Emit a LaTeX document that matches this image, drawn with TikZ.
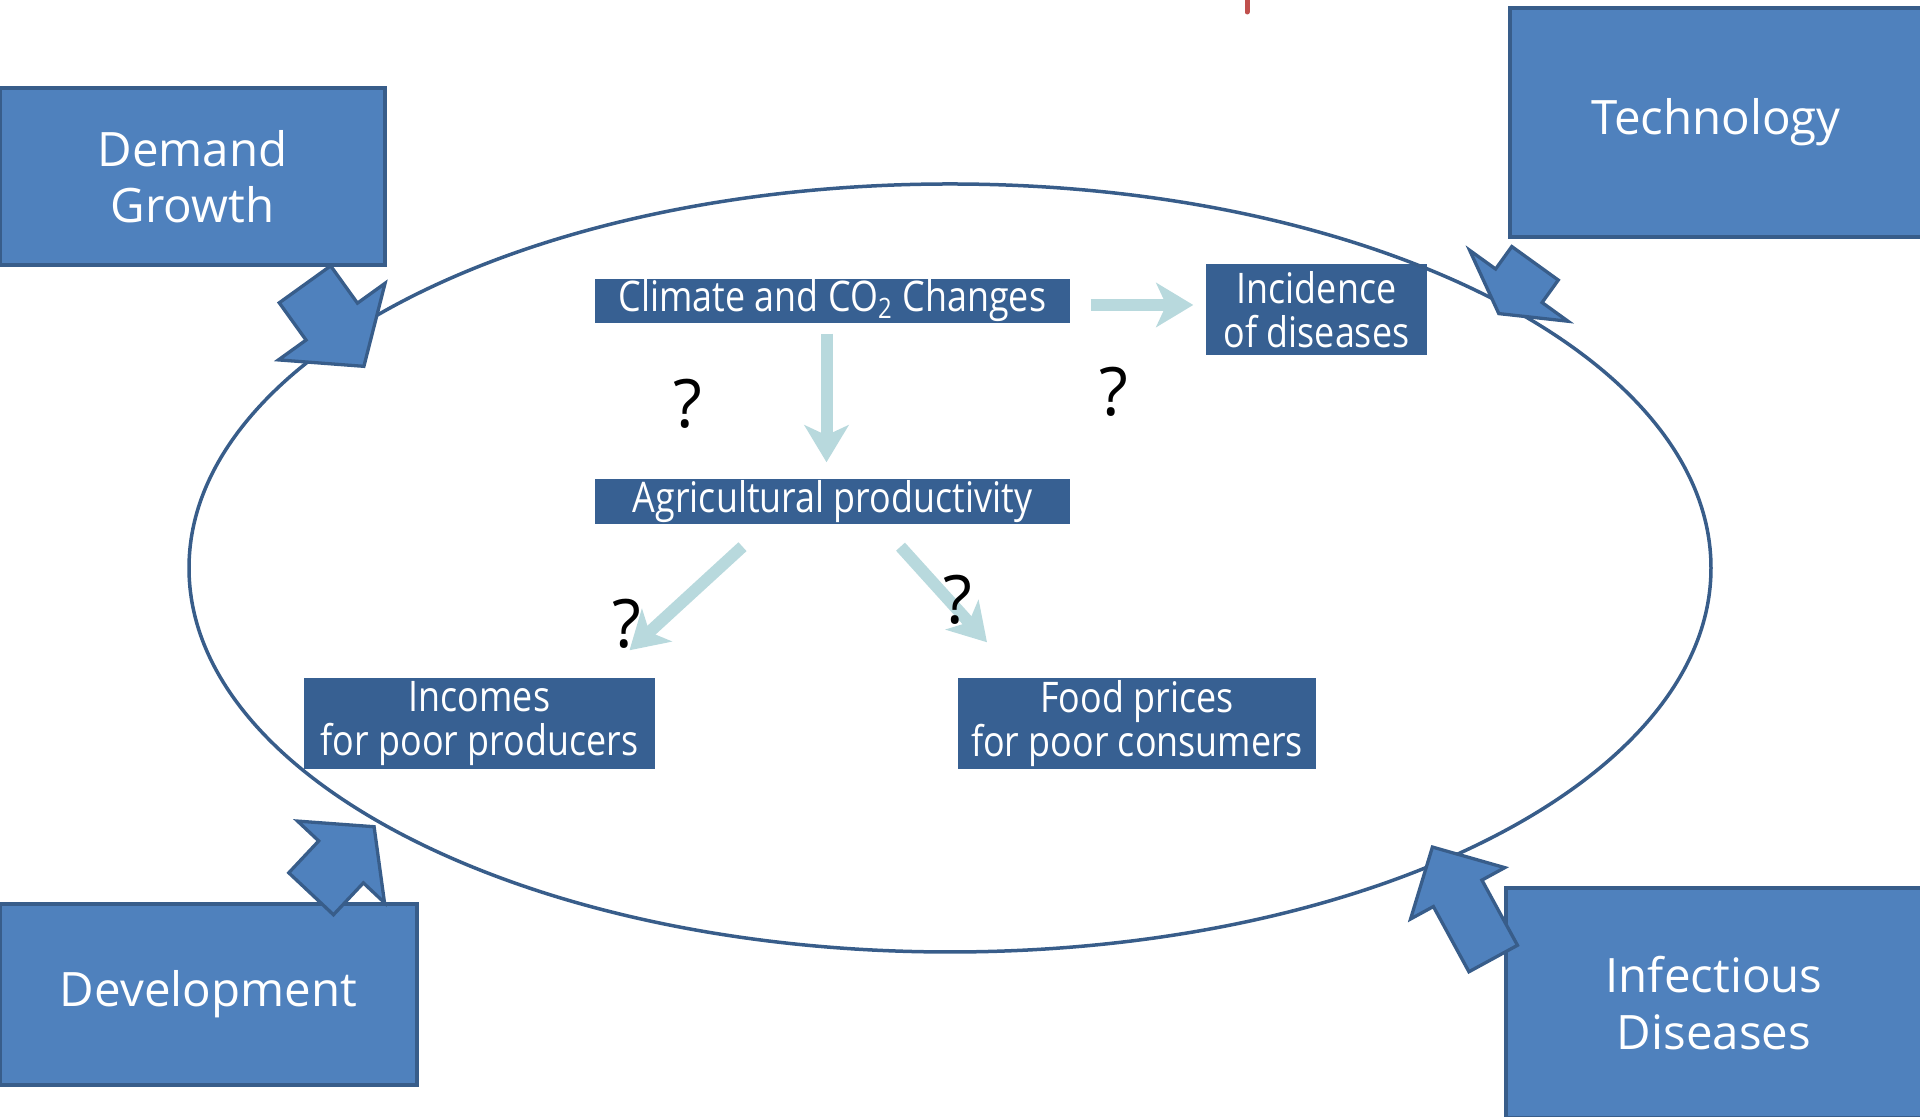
\documentclass[tikz,border=0pt]{standalone}
\usepackage{fontspec}
\setmainfont{Open Sans}
\newfontfamily\narrowfont[FakeStretch=0.85]{Open Sans}
\usetikzlibrary{shapes.arrows,arrows.meta}
\definecolor{boxblue}{HTML}{4F81BD}
\definecolor{edgeblue}{HTML}{385D8A}
\definecolor{deepblue}{HTML}{376092}
\definecolor{paleblue}{HTML}{B8D9DD}
\definecolor{markred}{HTML}{C0504D}
\tikzstyle{outerbox}=[draw=edgeblue,fill=boxblue,line width=0.4mm,text=white,align=center,font=\fontsize{13.5}{16}\selectfont]
\tikzstyle{innerbox}=[fill=deepblue,text=white,align=center,inner sep=0pt,font=\narrowfont\fontsize{12}{12.5}\selectfont]
\tikzstyle{flowarrow}=[draw=paleblue,line width=1.2mm,-{Stealth[length=3.7mm,width=4.4mm,inset=1mm]}]
\tikzstyle{bigarrow}=[draw=edgeblue,fill=boxblue,line width=0.33mm,single arrow,anchor=tail,inner xsep=0pt]
\tikzstyle{qmark}=[font=\fontsize{19}{19}\selectfont]

\begin{document}
\begin{tikzpicture}[x=0.1mm,y=0.1mm]
\useasboundingbox (0,0) rectangle (1920,1117);
  % inner chain
  \node[innerbox,minimum width=47.5mm,minimum height=4.4mm] (climate) at (832.5,816) {Climate and CO\textsubscript{2} Changes};
  \node[innerbox,minimum width=22.1mm,minimum height=9.1mm] (incid) at (1316.5,807.5) {Incidence\\of diseases};
  \node[innerbox,minimum width=47.5mm,minimum height=4.5mm] (agri) at (832.5,615.5) {Agricultural productivity};
  \node[innerbox,minimum width=35.1mm,minimum height=9.1mm] (incomes) at (479.5,393.5) {Incomes\\for poor producers};
  \node[innerbox,minimum width=35.8mm,minimum height=9.1mm] (food) at (1137,393.5) {Food prices\\for poor consumers};
  \draw[flowarrow,shorten <=2mm,shorten >=1.2mm] ([yshift=-0.4mm]climate.east) -- ([yshift=-0.4mm]climate.east -| incid.west);
  \draw[flowarrow,shorten <=1mm,shorten >=1.6mm] ([xshift=-0.6mm]climate.south) -- ([xshift=-0.6mm]agri.north);
  \draw[flowarrow] ([xshift=-9mm,yshift=-2.2mm]agri.south) -- ([xshift=15mm,yshift=2.7mm]incomes.north);
  \draw[flowarrow] ([xshift=6.8mm,yshift=-2.2mm]agri.south) -- ([xshift=-15mm,yshift=3.5mm]food.north);
  \foreach \place/\name in {{(688,713)/qa},
                            {(1114,725)/qb},
                            {(627,493)/qc},
                            {(958,517)/qd}}
    \node[qmark] (\name) at \place {?};
  % outer ring
  \draw[edgeblue,line width=0.35mm] (950,549) ellipse [x radius=76.1mm,y radius=38.4mm];
  \node[outerbox,minimum width=38.5mm,minimum height=17.7mm] (demand) at (192.5,940.5) {Demand\\Growth};
  \node[outerbox,minimum width=41.2mm,minimum height=22.9mm] (tech) at (1716,994.5) {Technology};
  \node[outerbox,minimum width=41.7mm,minimum height=18.1mm] (devel) at (208.5,122.5) {Development};
  \node[outerbox,minimum width=41.6mm,minimum height=23mm] (infect) at (1714,114) {Infectious\\Diseases};
  \foreach \place/\name/\turn/\len/\shaft/\head/\tip in
      {{(304,834)/dgarrow/-54.3/10.1/3.0/3.4/100},
       {(1536,855)/tcarrow/-125.8/6.2/2.7/3.2/121},
       {(310,222)/dvarrow/46.8/9.2/2.9/2.9/102},
       {(1494,157)/idarrow/118.6/12.7/2.6/2.6/91}}
    \node[bigarrow,rotate=\turn,minimum height=\len mm,inner ysep=\shaft mm,
          single arrow head extend=\head mm,single arrow tip angle=\tip] (\name) at \place {};
  \draw[markred,line width=0.5mm,line cap=round] (1247,1117) -- (1247,1105);
\end{tikzpicture}
\end{document}
